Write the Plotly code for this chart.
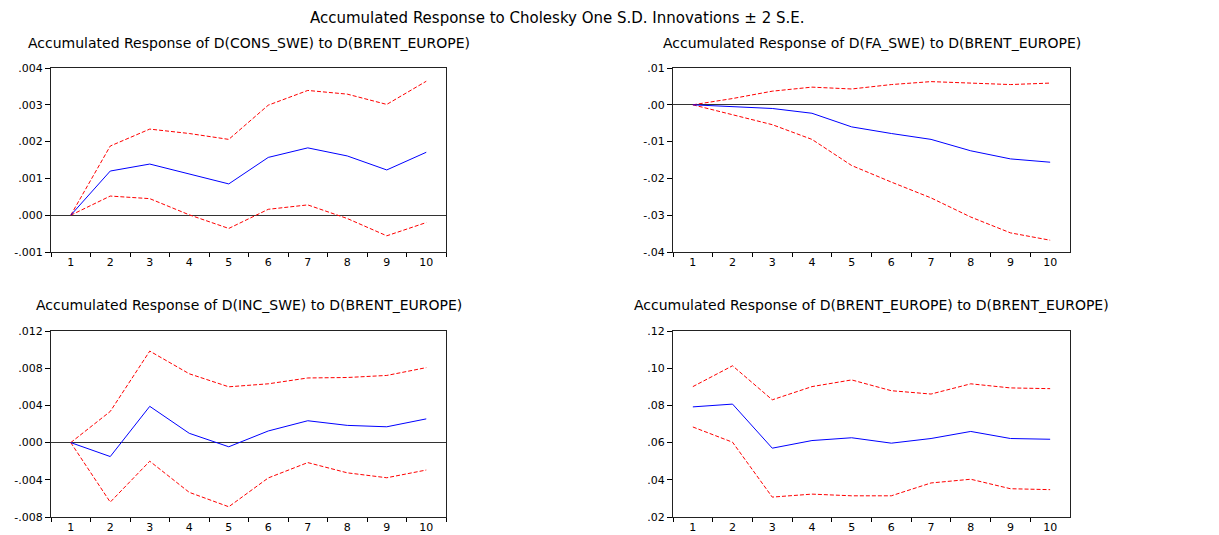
import plotly.graph_objects as go

periods = [str(i) for i in range(1, 11)]

# Panel 1: D(CONS_SWE)
cons_resp = [0.0, 0.00120, 0.00139, 0.00112, 0.00085, 0.00157, 0.00183, 0.00161, 0.00123, 0.00171]
cons_upper = [0.0, 0.00188, 0.00234, 0.00222, 0.00206, 0.00299, 0.00339, 0.00329, 0.00301, 0.00364]
cons_lower = [0.0, 0.00052, 0.00045, 0.00001, -0.00036, 0.00016, 0.00028, -0.00009, -0.00056, -0.00020]

# Panel 2: D(FA_SWE)
fa_resp = [0.0, -0.0005, -0.0010, -0.0023, -0.0060, -0.0078, -0.0094, -0.0125, -0.0147, -0.0156]
fa_upper = [0.0, 0.0017, 0.0037, 0.0048, 0.0043, 0.0055, 0.0063, 0.0059, 0.0055, 0.0059]
fa_lower = [0.0, -0.0028, -0.0054, -0.0094, -0.0165, -0.0210, -0.0253, -0.0305, -0.0348, -0.0368]

# Panel 3: D(INC_SWE)
inc_resp = [0.0, -0.00150, 0.00390, 0.00100, -0.00045, 0.00125, 0.00235, 0.00185, 0.00170, 0.00255]
inc_upper = [0.0, 0.00335, 0.00984, 0.00740, 0.00600, 0.00632, 0.00695, 0.00700, 0.00722, 0.00806]
inc_lower = [0.0, -0.00640, -0.00200, -0.00535, -0.00690, -0.00380, -0.00215, -0.00325, -0.00378, -0.00295]

# Panel 4: D(BRENT_EUROPE)
brent_resp = [0.0792, 0.0807, 0.0570, 0.0611, 0.0626, 0.0597, 0.0622, 0.0660, 0.0622, 0.0618]
brent_upper = [0.0901, 0.1013, 0.0830, 0.0901, 0.0937, 0.0879, 0.0861, 0.0916, 0.0894, 0.0890]
brent_lower = [0.0684, 0.0602, 0.0307, 0.0323, 0.0314, 0.0314, 0.0383, 0.0403, 0.0352, 0.0347]

main_title = "Accumulated Response to Cholesky One S.D. Innovations ± 2 S.E."
panel_titles = [
    "Accumulated Response of D(CONS_SWE) to D(BRENT_EUROPE)",
    "Accumulated Response of D(FA_SWE) to D(BRENT_EUROPE)",
    "Accumulated Response of D(INC_SWE) to D(BRENT_EUROPE)",
    "Accumulated Response of D(BRENT_EUROPE) to D(BRENT_EUROPE)",
]

y_ticks = [
    ([-0.001, 0.0, 0.001, 0.002, 0.003, 0.004], ["-.001", ".000", ".001", ".002", ".003", ".004"]),
    ([-0.04, -0.03, -0.02, -0.01, 0.0, 0.01], ["-.04", "-.03", "-.02", "-.01", ".00", ".01"]),
    ([-0.008, -0.004, 0.0, 0.004, 0.008, 0.012], ["-.008", "-.004", ".000", ".004", ".008", ".012"]),
    ([0.02, 0.04, 0.06, 0.08, 0.10, 0.12], [".02", ".04", ".06", ".08", ".10", ".12"]),
]
y_ranges = [[-0.001, 0.004], [-0.04, 0.01], [-0.008, 0.012], [0.02, 0.12]]

series = [
    (cons_resp, cons_upper, cons_lower),
    (fa_resp, fa_upper, fa_lower),
    (inc_resp, inc_upper, inc_lower),
    (brent_resp, brent_upper, brent_lower),
]

# page body has an 8px margin; lay out in page pixel coordinates
OFF = 8
W, H = 1219 - OFF, 535 - OFF


def px_x(v):
    return (v - OFF) / W


def px_y(v):
    return 1 - (v - OFF) / H


x_domains = [[px_x(51), px_x(446)], [px_x(673), px_x(1070)]]
y_domains = [[px_y(252), px_y(68)], [px_y(517), px_y(331)]]

FONT = "DejaVu Sans, Liberation Sans, Arial, sans-serif"

fig = go.Figure()
layout = dict(
    width=W, height=H,
    margin=dict(l=0, r=0, t=0, b=0, autoexpand=False),
    paper_bgcolor="white", plot_bgcolor="white",
    showlegend=False,
    font=dict(family=FONT, size=11, color="black"),
)
annotations = [dict(text=main_title, x=px_x(557), y=1, xref="paper", yref="paper",
                    xanchor="center", yanchor="top", showarrow=False, borderpad=0,
                    font=dict(family=FONT, size=15, color="black"))]

for i, (resp, up, lo) in enumerate(series):
    n = i + 1
    xa = "x" if n == 1 else f"x{n}"
    ya = "y" if n == 1 else f"y{n}"
    col, row = i % 2, i // 2
    for vals, color, dash in [(up, "#FF0000", "4px,2px"), (lo, "#FF0000", "4px,2px"), (resp, "#0000FF", "solid")]:
        fig.add_trace(go.Scatter(x=periods, y=vals, mode="lines", xaxis=xa, yaxis=ya,
                                 line=dict(color=color, width=1, dash=dash), hoverinfo="skip"))
    key = "" if n == 1 else str(n)
    layout["xaxis" + key] = dict(
        domain=x_domains[col], anchor=ya, type="category", range=[-0.5, 9.5],
        tickson="boundaries", ticks="outside", ticklen=4, tickcolor="black", tickwidth=1,
        showline=True, mirror=True, linecolor="#222222", linewidth=1, showgrid=False,
        zeroline=False, tickfont=dict(family=FONT, size=11, color="black"),
    )
    layout["yaxis" + key] = dict(
        domain=y_domains[row], anchor=xa, range=y_ranges[i],
        tickvals=y_ticks[i][0], ticktext=y_ticks[i][1],
        ticks="outside", ticklen=5, tickcolor="black", tickwidth=1,
        showline=True, mirror=True, linecolor="#222222", linewidth=1, showgrid=False,
        zeroline=True, zerolinecolor="#333333", zerolinewidth=1,
        tickfont=dict(family=FONT, size=11, color="black"),
    )
    cx = (x_domains[col][0] + x_domains[col][1]) / 2
    ty = [px_y(43), px_y(305)][row]
    annotations.append(dict(text=panel_titles[i], x=cx, y=ty, xref="paper", yref="paper",
                            xanchor="center", yanchor="middle", showarrow=False,
                            font=dict(family=FONT, size=14, color="black")))

layout["annotations"] = annotations
fig.update_layout(**layout)
fig.write_html("out.html")
